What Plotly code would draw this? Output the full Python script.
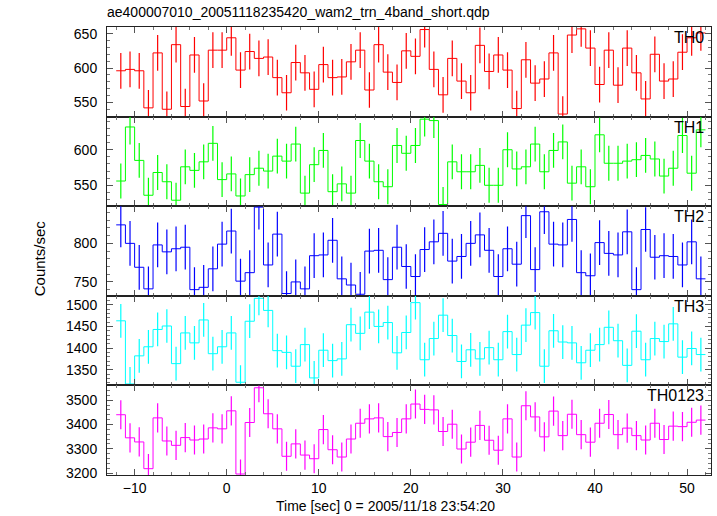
import numpy as np
import plotly.graph_objects as go
from plotly.subplots import make_subplots

# ---- data (1-s bins from -12 s to 52 s) ----
bin_start = -12.0
bin_width = 1.0

th0 = [596, 598, 596, 542, 622, 540, 634, 544, 619, 552,
       626, 626, 644, 597, 624, 614, 616, 586, 564, 608,
       593, 569, 605, 586, 587, 609, 626, 568, 634, 594,
       579, 625, 617, 656, 598, 561, 614, 581, 564, 633,
       595, 619, 597, 541, 612, 578, 584, 622, 533, 648,
       657, 629, 576, 626, 575, 629, 593, 555, 620, 581,
       584, 623, 644, 651]
th1 = [556, 632, 585, 536, 568, 555, 529, 576, 571, 583,
       609, 558, 566, 535, 565, 574, 570, 591, 584, 608,
       539, 579, 599, 541, 552, 539, 613, 584, 555, 548,
       606, 595, 606, 643, 641, 523, 583, 569, 569, 578,
       550, 550, 600, 573, 576, 608, 569, 599, 611, 553,
       576, 548, 621, 581, 581, 584, 586, 592, 587, 563,
       574, 620, 567, 628]
th2 = [824, 800, 769, 741, 798, 789, 793, 795, 740, 743,
       767, 799, 816, 751, 762, 847, 772, 812, 735, 750,
       741, 784, 785, 804, 754, 746, 734, 790, 791, 753,
       795, 770, 757, 792, 802, 813, 777, 783, 800, 811,
       791, 757, 793, 773, 836, 766, 841, 799, 798, 831,
       762, 758, 801, 787, 785, 815, 740, 818, 782, 784,
       783, 772, 802, 754]
th3 = [1463, 1317, 1382, 1403, 1443, 1451, 1364, 1435, 1412, 1465,
       1387, 1403, 1435, 1321, 1462, 1515, 1487, 1394, 1390, 1358,
       1408, 1331, 1395, 1371, 1375, 1454, 1434, 1483, 1450, 1459,
       1389, 1436, 1505, 1373, 1422, 1476, 1429, 1369, 1396, 1375,
       1401, 1373, 1438, 1385, 1453, 1482, 1358, 1440, 1414, 1412,
       1366, 1395, 1408, 1448, 1417, 1360, 1439, 1373, 1422, 1415,
       1456, 1379, 1399, 1385]
th0123 = [3440, 3345, 3328, 3218, 3427, 3332, 3314, 3346, 3336, 3340,
          3386, 3382, 3456, 3196, 3408, 3551, 3444, 3382, 3269, 3320,
          3274, 3259, 3379, 3296, 3266, 3340, 3405, 3423, 3427, 3350,
          3367, 3423, 3484, 3462, 3460, 3371, 3401, 3299, 3327, 3396,
          3335, 3294, 3423, 3266, 3477, 3431, 3349, 3455, 3354, 3442,
          3358, 3327, 3405, 3441, 3358, 3385, 3354, 3336, 3405, 3338,
          3393, 3391, 3409, 3418]

series_names = ["TH0", "TH1", "TH2", "TH3", "TH0123"]
series_values = [th0, th1, th2, th3, th0123]
series_errors = [26, 24.5, 29, 39, 60]
series_colors = ["#ff0000", "#00ff00", "#0000ff", "#00ffff", "#ff00ff"]
y_ranges = [[529.3, 659.7], [520.6, 646.6], [732, 848.2], [1313.7, 1520.8], [3192, 3560.7]]
y_dticks = [50, 50, 50, 50, 100]
y_minor = [10, 10, 10, 10, 20]

title_text = "ae400007010_20051118235420_wam2_trn_4band_short.qdp"
xlabel = "Time [sec] 0 = 2005/11/18 23:54:20"
ylabel = "Counts/sec"

FONT = "Liberation Sans, Arial, Helvetica, sans-serif"

n = len(th0)
centers = bin_start + bin_width * (np.arange(n) + 0.5)
edges = np.concatenate([centers - bin_width / 2, [centers[-1] + bin_width / 2]])

fig = make_subplots(rows=5, cols=1, shared_xaxes=True, vertical_spacing=0)

for i in range(5):
    r = i + 1
    vals = series_values[i]
    col = series_colors[i]
    fig.add_trace(go.Scatter(x=edges, y=list(vals) + [vals[-1]], mode="lines",
                             line=dict(color=col, width=1, shape="hv"),
                             hoverinfo="skip", showlegend=False), row=r, col=1)
    fig.add_trace(go.Scatter(x=centers, y=vals, mode="markers",
                             marker=dict(size=0.1, color=col, opacity=0),
                             error_y=dict(type="constant", value=series_errors[i], color=col,
                                          thickness=1.2, width=0),
                             hoverinfo="skip", showlegend=False), row=r, col=1)

# plot area: x 107..711 px, y 27..475.5 px in a 717x516 page
W, Hfig = 717, 516
left_px, right_px = 107.0, 711.0
top_px, bot_px = 27.0, 475.5
H = bot_px - top_px
PW = right_px - left_px
ph = H / 5
for i in range(5):
    r = i + 1
    d_top = 1 - (i * ph) / H
    d_bot = 1 - ((i + 1) * ph) / H
    yname = "yaxis" if r == 1 else f"yaxis{r}"
    xname = "xaxis" if r == 1 else f"xaxis{r}"
    fig.layout[yname].update(
        domain=[max(d_bot, 0), min(d_top, 1)], range=y_ranges[i],
        dtick=y_dticks[i], tick0=0, ticks="inside", ticklen=6, tickcolor="#555",
        minor=dict(dtick=y_minor[i], tick0=0, ticks="inside", ticklen=3, tickcolor="#777"),
        showline=True, linecolor="#222", linewidth=1, mirror="ticks",
        showgrid=False, zeroline=False,
        tickfont=dict(family=FONT, size=14, color="black"), ticklabelstandoff=6)
    fig.layout[xname].update(
        range=[-13.0, 52.6], dtick=10, tick0=0, ticks="inside", ticklen=6, tickcolor="#555",
        minor=dict(dtick=2, tick0=0, ticks="inside", ticklen=3, tickcolor="#777"),
        showline=True, linecolor="#222", linewidth=1, mirror="ticks",
        showgrid=False, zeroline=False, showticklabels=(r == 5),
        tickfont=dict(family=FONT, size=14, color="black"))
    fig.add_annotation(text=series_names[i], xref="paper", yref="paper",
                       x=(706 - left_px) / PW, y=d_top, xanchor="right", yanchor="top",
                       yshift=0, showarrow=False,
                       font=dict(family=FONT, size=16, color="black"))

fig.add_annotation(text=ylabel, xref="paper", yref="paper",
                   x=(39.5 - left_px) / PW, y=(bot_px - 259) / H, textangle=-90,
                   xanchor="center", yanchor="middle", showarrow=False,
                   font=dict(family=FONT, size=15, color="black"))
fig.add_annotation(text=xlabel, xref="paper", yref="paper",
                   x=(385 - left_px) / PW, y=(bot_px - 507) / H,
                   xanchor="center", yanchor="middle", showarrow=False,
                   font=dict(family=FONT, size=14, color="black"))

fig.update_layout(
    width=W, height=Hfig,
    margin=dict(l=left_px, r=W - right_px, t=top_px, b=Hfig - bot_px),
    paper_bgcolor="white", plot_bgcolor="white",
    title=dict(text=title_text, x=left_px / W, xanchor="left", y=1 - 12 / Hfig, yanchor="middle",
               font=dict(family=FONT, size=14, color="black")),
    showlegend=False,
    hovermode=False,
)

fig.write_html("out.html", config={"displayModeBar": False},
               post_script="document.body.style.margin='0px';")
